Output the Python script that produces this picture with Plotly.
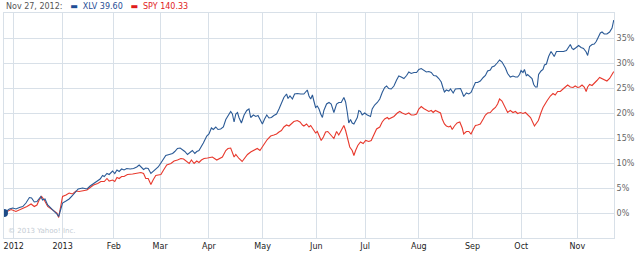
import plotly.graph_objects as go

# trading-day index since Nov 27, 2012 and % change
xlv_day = [0, 2.2, 3.6, 4.9, 6.3, 7.7, 9.0, 10.4, 11.3, 12.4, 13.5, 14.4, 15.1, 15.8, 16.8, 17.9, 19.2, 20.6, 21.7, 22.4,
           23.3, 24.0, 25.4, 26.7, 28.1, 29.5, 30.4, 32.2, 34.0, 35.3, 36.7, 38.1, 39.4, 40.4, 41.1, 42.2, 43.1, 44.5, 45.4,
           46.3, 47.2, 48.2, 49.2, 50.3, 51.7, 53.1, 54.4, 55.4, 56.4, 57.2, 58.1, 59.1, 60.2, 61.3, 62.2, 63.2, 64.3, 65.4,
           66.3, 67.7, 69.1, 70.0, 71.1, 72.2, 73.1, 74.1, 75.2, 76.3, 77.2, 78.2, 79.0, 79.9, 80.6, 81.7, 83.1, 84.0, 85.0,
           85.8, 86.8, 87.7, 88.8, 89.9, 90.9, 91.8, 92.9, 93.6, 94.3, 95.0, 95.7, 96.3, 97.3, 98.4, 99.5, 100.4, 101.1,
           102.2, 103.2, 104.1, 104.9, 105.9, 106.8, 107.7, 108.6, 109.6, 110.6, 111.7, 112.7, 113.7, 114.7, 115.8, 116.4,
           117.2, 118.2, 119.1, 120.2, 121.6, 122.9, 124.3, 125.0, 125.7, 126.4, 127.0, 127.7, 128.4, 129.1, 129.8, 130.5,
           131.1, 132.2, 133.2, 134.1, 135.2, 136.3, 137.2, 138.2, 139.3, 140.0, 140.7, 141.3, 142.0, 142.7, 143.4, 144.1,
           144.8, 145.4, 146.1, 146.8, 147.8, 148.9, 150.2, 150.9, 151.9, 153.0, 154.0, 155.0, 156.0, 156.8, 157.7, 158.7,
           159.8, 160.9, 161.8, 162.8, 163.9, 165.0, 165.9, 166.9, 168.0, 169.1, 170.0, 171.0, 172.0, 173.1, 174.1, 175.1,
           176.1, 177.2, 178.2, 179.2, 180.0, 180.5, 181.3, 182.3, 183.0, 184.1, 185.0, 186.0, 187.1, 187.8, 188.4, 189.5,
           190.5, 191.4, 192.3, 193.2, 194.1, 195.2, 196.4, 197.3, 198.2, 199.3, 200.0, 201.0, 202.1, 203.1, 204.1, 205.5,
           206.4, 207.5, 208.6, 209.6, 210.5, 211.3, 211.9, 212.7, 213.3, 214.1, 214.6, 215.4, 216.4, 217.1, 217.8, 218.5,
           219.1, 220.1, 220.9, 221.5, 222.3, 223.2, 224.2, 225.0, 225.5, 226.4, 227.3, 228.3, 229.3, 230.5, 231.4, 232.1,
           232.8, 233.4, 234.5, 235.5, 236.5, 237.5, 238.6, 239.2, 240.0, 241.0, 241.9, 242.7, 243.7, 244.4, 245.1, 246.0,
           247.1, 248.2, 249.2, 249.9]
xlv_pct = [0, 0.8, 1.0, 0.8, 1.1, 1.3, 2.0, 3.1, 3.0, 2.2, 2.3, 3.0, 3.3, 2.6, 2.8, 1.6, 1.0, 0.5, -0.2, -0.7,
           0.7, 2.0, 2.4, 2.8, 3.5, 4.3, 4.8, 5.0, 4.8, 5.4, 5.9, 6.3, 6.8, 7.5, 7.3, 7.9, 7.7, 8.4, 7.9,
           8.6, 8.3, 8.8, 8.6, 8.9, 8.8, 8.9, 9.2, 9.6, 9.2, 8.7, 9.0, 8.9, 7.9, 8.4, 8.9, 9.2, 10.0, 10.9,
           11.5, 11.7, 11.9, 12.3, 12.9, 13.0, 12.7, 12.3, 11.7, 12.1, 12.5, 11.9, 12.3, 12.5, 13.0, 14.0, 15.4, 15.8, 17.0,
           16.7, 17.2, 16.7, 16.8, 17.2, 18.7, 19.5, 20.3, 19.8, 18.2, 19.8, 20.1, 19.1, 18.0, 19.6, 20.5, 20.8, 19.1,
           19.6, 19.3, 19.5, 18.8, 17.8, 18.8, 19.6, 19.0, 19.1, 19.5, 19.8, 20.8, 22.0, 23.1, 23.8, 22.9,
           23.4, 22.8, 23.8, 23.9, 23.8, 23.8, 24.6, 23.4, 22.8, 23.6, 22.4, 21.1, 21.4, 20.8, 19.8, 19.1,
           20.5, 21.8, 22.1, 21.8, 20.1, 21.8, 22.1, 22.1, 23.1, 22.2, 20.1, 18.0, 18.7, 18.0, 17.8, 18.5,
           19.1, 20.5, 20.3, 19.6, 20.0, 19.6, 19.3, 20.8, 21.6, 22.1, 22.8, 24.1, 25.1, 25.4, 24.9, 24.8,
           25.4, 26.6, 27.4, 27.2, 26.9, 27.5, 28.2, 27.9, 28.1, 28.1, 28.7, 28.9, 28.6, 28.2, 28.3, 28.1,
           27.5, 27.4, 26.9, 26.2, 24.9, 24.2, 24.6, 24.4, 24.8, 24.0, 24.8, 24.9, 24.9, 24.1, 23.3, 24.0,
           23.8, 24.1, 25.1, 26.1, 26.1, 26.4, 27.1, 27.5, 28.4, 28.6, 29.2, 29.4, 30.0, 30.6, 30.2, 29.0,
           27.9, 27.2, 27.4, 27.2, 27.2, 27.7, 28.5, 28.1, 28.7, 27.4, 27.7, 27.4, 26.9, 25.7, 25.2, 25.2,
           27.7, 28.4, 28.7, 29.6, 29.8, 31.3, 32.3, 31.7, 31.3, 32.3, 32.3, 32.2, 32.3, 32.5, 33.1, 33.7,
           32.9, 32.7, 33.1, 33.5, 33.1, 32.9, 32.2, 31.5, 33.3, 33.7, 33.8, 34.3, 35.3, 36.0, 36.2, 35.8,
           35.8, 36.2, 37.0, 38.6]

spy_day = [0, 1.5, 2.9, 4.9, 6.3, 7.7, 9.4, 11.1, 12.4, 13.5, 14.4, 15.4, 16.5, 17.9, 19.2, 20.6, 21.7, 22.4, 23.3,
           24.0, 25.4, 26.7, 28.1, 29.5, 30.8, 32.2, 34.0, 35.3, 36.7, 38.4, 39.7, 41.1, 42.2, 43.1, 44.5, 45.4, 46.3,
           47.2, 48.2, 49.2, 50.6, 52.7, 54.7, 56.1, 57.2, 58.1, 59.1, 60.2, 61.1, 62.2, 63.2, 64.3, 65.4, 66.7, 68.4,
           69.7, 71.1, 72.5, 73.6, 74.9, 75.9, 76.8, 77.9, 79.0, 79.9, 80.9, 82.0, 83.4, 85.4, 87.2, 89.5, 90.9, 91.8,
           92.9, 93.6, 94.3, 95.0, 95.7, 96.3, 97.6, 99.8, 101.1, 102.5, 103.8, 104.9, 105.9, 106.8, 107.9, 109.3,
           110.6, 111.7, 112.7, 113.7, 114.7, 115.8, 116.8, 117.8, 118.8, 120.2, 121.3, 122.3, 122.9, 124.0, 125.0,
           125.7, 126.8, 127.7, 128.4, 129.1, 130.0, 130.9, 131.8, 132.7, 133.8, 135.2, 136.3, 137.2, 138.2, 139.3,
           140.0, 140.7, 141.7, 142.7, 143.4, 144.1, 145.0, 146.1, 147.2, 148.2, 149.5, 150.5, 151.6, 152.7, 154.0,
           155.0, 156.0, 157.1, 157.7, 158.7, 159.8, 161.2, 162.2, 163.2, 164.6, 165.9, 166.9, 168.0, 169.1, 170.0,
           171.0, 172.0, 173.1, 174.1, 175.1, 175.9, 176.8, 177.8, 178.9, 179.6, 180.5, 181.3, 182.3, 183.0, 183.7,
           184.6, 185.7, 186.8, 187.8, 188.4, 189.5, 190.5, 191.4, 192.3, 193.2, 194.1, 195.2, 196.4, 197.3, 198.2,
           199.3, 200.4, 201.4, 202.3, 203.1, 204.1, 205.5, 206.4, 207.5, 208.6, 209.6, 210.5, 211.6, 212.7, 213.7,
           215.8, 217.4, 219.0, 220.1, 220.9, 222.5, 223.9, 225.0, 225.9, 226.9, 228.0, 229.1, 230.0, 231.0, 232.1,
           233.2, 234.1, 235.1, 235.9, 236.9, 237.8, 238.6, 239.2, 240.0, 241.0, 241.9, 243.0, 244.1, 245.1, 246.0,
           247.1, 248.2, 249.2, 249.9]
spy_pct = [0, 0.3, 0.7, 0.3, 0.6, 0.8, 1.3, 1.8, 1.3, 1.6, 2.6, 3.3, 2.6, 1.3, 0.8, 0.3, 0.0, -0.9, 1.3,
           3.3, 3.6, 4.0, 3.8, 4.4, 4.3, 4.4, 4.6, 5.1, 5.6, 5.9, 6.3, 6.3, 6.9, 6.4, 6.6, 6.3, 7.1,
           6.9, 7.3, 7.3, 7.7, 7.8, 7.9, 8.1, 7.9, 6.9, 6.9, 5.7, 6.6, 7.5, 7.6, 7.7, 8.6, 9.6, 9.9,
           10.4, 10.6, 10.9, 10.8, 10.2, 9.9, 10.6, 9.9, 10.4, 10.1, 10.6, 10.9, 11.0, 11.2, 10.6, 11.2, 12.5, 12.9,
           13.0, 12.2, 11.2, 11.7, 11.2, 10.9, 10.3, 11.7, 12.2, 12.5, 12.9, 12.5, 13.4, 13.9, 14.7, 15.4,
           15.6, 15.8, 16.2, 16.5, 17.2, 17.6, 17.4, 17.8, 18.3, 18.5, 18.2, 17.6, 17.4, 17.8, 17.2,
           17.5, 16.8, 16.0, 16.3, 15.6, 14.5, 15.2, 16.2, 16.3, 15.6, 14.9, 16.3, 15.6, 16.5, 17.5,
           16.5, 14.9, 13.2, 12.5, 11.5, 12.5, 13.5, 14.2, 13.9, 14.5, 14.3, 14.5, 15.5, 16.8, 17.2,
           18.2, 18.8, 19.1, 18.8, 19.1, 19.3, 20.0, 20.3, 20.0, 19.7, 20.0, 19.6, 19.6, 19.8, 20.8,
           21.3, 20.9, 20.5, 20.3, 20.5, 20.1, 20.5, 20.3, 20.0, 18.8, 17.8, 17.4, 17.2, 17.4, 16.7,
           17.4, 18.0, 18.2, 17.0, 15.8, 16.3, 16.3, 15.8, 16.7, 17.5, 17.6, 17.8, 18.8, 19.6, 20.0,
           20.1, 20.7, 21.1, 21.8, 22.8, 22.4, 21.0, 20.1, 20.5, 20.1, 20.3, 19.9, 20.1, 19.9, 20.1,
           19.1, 17.4, 18.5, 20.1, 21.1, 22.4, 23.4, 23.9, 23.6, 24.3, 24.3, 24.8, 25.1, 25.6, 25.2,
           25.1, 25.4, 25.1, 25.2, 25.6, 25.2, 24.3, 25.2, 25.7, 25.5, 25.9, 26.5, 27.1, 26.9, 26.7,
           26.4, 26.9, 27.6, 28.3]

month_days = [4, 24, 45, 64, 84, 106, 128, 148, 170, 192, 212, 235]
month_labels = ["2012", "2013", "Feb", "Mar", "Apr", "May", "Jun", "Jul", "Aug", "Sep", "Oct", "Nov"]
pct_ticks = [0, 5, 10, 15, 20, 25, 30, 35]
pct_labels = ["0%", "5%", "10%", "15%", "20%", "25%", "30%", "35%"]

BLUE = "#2b5a96"
RED = "#e8392d"
GRID = "#d8e0e8"

fig = go.Figure()
fig.add_trace(go.Scatter(x=spy_day, y=spy_pct, mode="lines", line=dict(color=RED, width=1.1), hoverinfo="skip"))
fig.add_trace(go.Scatter(x=xlv_day, y=xlv_pct, mode="lines", line=dict(color=BLUE, width=1.1), hoverinfo="skip"))
fig.add_trace(go.Scatter(x=[xlv_day[0]], y=[xlv_pct[0]], mode="markers",
                         marker=dict(color="#1d4a86", size=8), hoverinfo="skip"))

fig.update_layout(
    width=640, height=254,
    margin=dict(l=3, r=26, t=13, b=14),
    paper_bgcolor="white", plot_bgcolor="white",
    showlegend=False,
    font=dict(family="DejaVu Sans", size=8, color="#666"),
    xaxis=dict(range=[0, 250], tickvals=month_days, ticktext=month_labels,
               showgrid=True, gridcolor=GRID, gridwidth=1, zeroline=False,
               showline=True, linecolor=GRID, mirror=True, ticks="",
               tickfont=dict(family="DejaVu Sans", size=8, color="#222")),
    yaxis=dict(range=[-5, 40], tickvals=pct_ticks, ticktext=pct_labels, side="right",
               showgrid=True, gridcolor=GRID, gridwidth=1, zeroline=False,
               showline=True, linecolor=GRID, mirror=True, ticks="",
               tickfont=dict(family="DejaVu Sans", size=8, color="#666")),
    annotations=[
        dict(xref="paper", yref="paper", x=0, y=1, xshift=0, yshift=7, xanchor="left", yanchor="middle",
             showarrow=False, align="left",
             text="<span style='color:#555'>Nov 27, 2012:</span>&nbsp;&nbsp; "
                  "<span style='color:#1f4e96'>▬&nbsp; XLV 39.60</span>&nbsp;&nbsp; "
                  "<span style='color:#e01b1b'>▬&nbsp; SPY 140.33</span>",
             font=dict(family="DejaVu Sans", size=8)),
        dict(xref="paper", yref="paper", x=0, y=0, xshift=2, yshift=7, xanchor="left", yanchor="middle",
             showarrow=False, text="© 2013 Yahoo! Inc.",
             font=dict(family="DejaVu Sans", size=7, color="#c4ccd4")),
    ],
)

fig.write_html("out.html")
